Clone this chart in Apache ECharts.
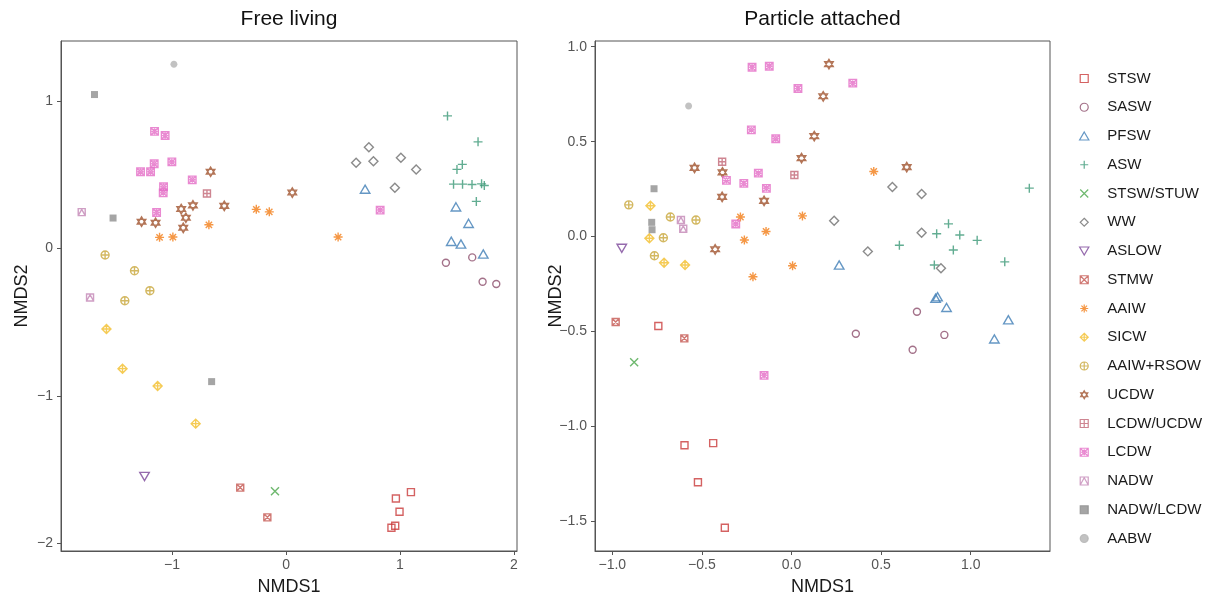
<!DOCTYPE html>
<html>
<head>
<meta charset="utf-8">
<title>NMDS</title>
<script src="https://cdn.jsdelivr.net/npm/echarts@6/dist/echarts.min.js"></script>
<style>
  html, body { margin: 0; padding: 0; background: #fff; }
  #chart { width: 1207px; height: 597px; }
</style>
</head>
<body>
<div id="chart"></div>
<script>
// water masses, in legend order
const groups = ['STSW', 'SASW', 'PFSW', 'ASW', 'STSW/STUW', 'WW', 'ASLOW', 'STMW', 'AAIW', 'SICW',
  'AAIW+RSOW', 'UCDW', 'LCDW/UCDW', 'LCDW', 'NADW', 'NADW/LCDW', 'AABW'];

// Free living  [NMDS1, NMDS2]
const flSTSW = [[1.096, -1.653], [0.964, -1.696], [0.996, -1.786], [0.958, -1.881], [0.925, -1.895]];
const flSASW = [[1.403, -0.096], [1.634, -0.060], [1.725, -0.225], [1.845, -0.241]];
const flPFSW = [[0.694, 0.403], [1.491, 0.283], [1.602, 0.171], [1.450, 0.049], [1.535, 0.031], [1.731, -0.037]];
const flASW = [[1.417, 0.900], [1.685, 0.724], [1.547, 0.571], [1.500, 0.537], [1.470, 0.437], [1.549, 0.437],
  [1.632, 0.435], [1.716, 0.439], [1.740, 0.428], [1.670, 0.320]];
const flSTUW = [[-0.097, -1.647]];
const flWW = [[0.727, 0.688], [0.615, 0.582], [0.767, 0.593], [1.008, 0.616], [1.142, 0.537], [0.955, 0.412]];
const flASLOW = [[-1.242, -1.547]];
const flSTMW = [[-0.402, -1.622], [-0.164, -1.824]];
const flAAIW = [[-0.261, 0.266], [-0.147, 0.249], [-0.677, 0.161], [-1.110, 0.076], [-0.993, 0.078], [0.457, 0.078]];
const flSICW = [[-1.576, -0.546], [-1.435, -0.815], [-1.127, -0.932], [-0.793, -1.188]];
const flRSOW = [[-1.588, -0.044], [-1.330, -0.151], [-1.195, -0.286], [-1.415, -0.354]];
const flUCDW = [[-0.662, 0.521], [0.055, 0.380], [-0.817, 0.293], [-0.542, 0.290], [-0.920, 0.268],
  [-0.879, 0.209], [-1.268, 0.182], [-1.145, 0.175], [-0.902, 0.141]];
const flLUCDW = [[-0.694, 0.374]];
const flLCDW = [[-1.154, 0.795], [-1.061, 0.767], [-1.002, 0.588], [-1.157, 0.575], [-1.277, 0.521],
  [-1.189, 0.521], [-0.823, 0.466], [-1.075, 0.419], [-1.078, 0.378], [-1.136, 0.245], [0.826, 0.261]];
const flNADW = [[-1.793, 0.247], [-1.720, -0.332]];
const flNLCDW = [[-1.681, 1.045], [-1.518, 0.207], [-0.653, -0.903]];
const flAABW = [[-0.984, 1.251]];

// Particle attached  [NMDS1, NMDS2]
const paSTSW = [[-0.743, -0.471], [-0.597, -1.099], [-0.437, -1.088], [-0.522, -1.294], [-0.372, -1.534]];
const paSASW = [[0.700, -0.396], [0.359, -0.512], [0.853, -0.518], [0.676, -0.596]];
const paPFSW = [[0.266, -0.150], [0.804, -0.325], [0.815, -0.317], [0.865, -0.373], [1.210, -0.438], [1.132, -0.539]];
const paASW = [[1.327, 0.255], [0.876, 0.067], [0.810, 0.015], [0.939, 0.008], [1.036, -0.020], [0.602, -0.046],
  [0.903, -0.071], [1.190, -0.133], [0.797, -0.150]];
const paSTUW = [[-0.878, -0.662]];
const paWW = [[0.238, 0.083], [0.563, 0.261], [0.726, 0.224], [0.726, 0.020], [0.426, -0.078], [0.834, -0.167]];
const paASLOW = [[-0.947, -0.062]];
const paSTMW = [[-0.981, -0.450], [-0.598, -0.536]];
const paAAIW = [[-0.285, 0.103], [0.061, 0.109], [-0.142, 0.027], [-0.263, -0.018], [0.006, -0.154],
  [-0.215, -0.212], [0.459, 0.343]];
const paSICW = [[-0.787, 0.162], [-0.793, -0.009], [-0.711, -0.138], [-0.594, -0.150]];
const paRSOW = [[-0.908, 0.167], [-0.676, 0.103], [-0.533, 0.087], [-0.715, -0.006], [-0.765, -0.101]];
const paUCDW = [[0.209, 0.908], [0.177, 0.739], [0.127, 0.529], [0.056, 0.413], [-0.541, 0.362],
  [-0.385, 0.338], [-0.387, 0.209], [-0.153, 0.188], [-0.426, -0.067], [0.643, 0.366]];
const paLUCDW = [[-0.387, 0.394], [0.016, 0.324]];
const paLCDW = [[-0.220, 0.892], [-0.124, 0.897], [0.036, 0.780], [0.342, 0.808], [-0.224, 0.562],
  [-0.088, 0.515], [-0.185, 0.334], [-0.363, 0.296], [-0.266, 0.280], [-0.140, 0.254], [-0.311, 0.066], [-0.153, -0.731]];
const paNADW = [[-0.617, 0.087], [-0.604, 0.041]];
const paNLCDW = [[-0.767, 0.252], [-0.780, 0.075], [-0.778, 0.036]];
const paAABW = [[-0.574, 0.688]];

const freeLiving = [flSTSW, flSASW, flPFSW, flASW, flSTUW, flWW, flASLOW, flSTMW, flAAIW, flSICW,
  flRSOW, flUCDW, flLUCDW, flLCDW, flNADW, flNLCDW, flAABW];
const particleAttached = [paSTSW, paSASW, paPFSW, paASW, paSTUW, paWW, paASLOW, paSTMW, paAAIW, paSICW,
  paRSOW, paUCDW, paLUCDW, paLCDW, paNADW, paNLCDW, paAABW];

const ticksFLx = [-1, 0, 1, 2];
const ticksFLy = [-2, -1, 0, 1];
const ticksPAx = [-1, -0.5, 0, 0.5, 1];
const ticksPAy = [-1.5, -1, -0.5, 0, 0.5, 1];

// styles (ggplot-like shapes 0..16)
const circ = 'M0,10C0,4.48,4.48,0,10,0C15.52,0,20,4.48,20,10C20,15.52,15.52,20,10,20C4.48,20,0,15.52,0,10Z';
const sq = 'M0,0L20,0L20,20L0,20Z';
const shapes = [
  'path://' + sq,                                               // 0 square
  'path://' + circ,                                             // 1 circle
  'path://M10,0L20,17.3L0,17.3Z',                               // 2 triangle
  'path://M10,0L10,20M0,10L20,10',                              // 3 plus
  'path://M0,0L20,20M20,0L0,20',                                // 4 cross
  'path://M10,0L20,10L10,20L0,10Z',                             // 5 diamond
  'path://M0,0L20,0L10,17.3Z',                                  // 6 triangle down
  'path://' + sq + 'M0,0L20,20M20,0L0,20',                      // 7 square cross
  'path://M10,0L10,20M0,10L20,10M3,3L17,17M17,3L3,17',          // 8 asterisk
  'path://M10,0L20,10L10,20L0,10ZM10,0L10,20M0,10L20,10',       // 9 diamond plus
  'path://' + circ + 'M10,0L10,20M0,10L20,10',                  // 10 circle plus
  'path://M10,0L19,15L1,15ZM10,20L1,5L19,5Z',                   // 11 star of david
  'path://' + sq + 'M10,0L10,20M0,10L20,10',                    // 12 square plus
  'path://' + sq + 'M0,0L20,20M20,0L0,20M10,4L16,10L10,16L4,10Z', // 13
  'path://' + sq + 'M0,20L10,2L20,20',                          // 14 square triangle
  'path://' + sq,                                               // 15 filled square
  'path://' + circ                                              // 16 filled circle
];
const colors = ['#c93b3b', '#8c4d6c', '#3f7db5', '#3b9877', '#4aa64a', '#6e6e6e', '#7a4598', '#c45650',
  '#f27d17', '#f2be2a', '#c8a63a', '#a0522d', '#c26676', '#e36cc5', '#c386b5', '#8f8f8f', '#b3b3b3'];
const sizes = [7, 7, 9.5, 9, 8, 9, 9.5, 7, 9, 9, 8, 9.5, 7, 7.5, 7, 7, 7];
const filled = [false, false, false, false, false, false, false, false, false, false,
  false, false, false, false, false, true, true];

const font = 'Liberation Sans, Arial, Helvetica, sans-serif';

// ggplot-style 5% expansion of the data range
function expand(sets, k) {
  const v = [];
  sets.forEach(s => s.forEach(p => v.push(p[k])));
  const lo = Math.min(...v), hi = Math.max(...v), pad = (hi - lo) * 0.05;
  return [lo - pad, hi + pad];
}

function valueAxis(gridIndex, ext, ticks, fmt, isY) {
  return {
    type: 'value', gridIndex: gridIndex, min: ext[0], max: ext[1],
    name: isY ? 'NMDS2' : 'NMDS1', nameLocation: 'middle', nameGap: isY ? 30 : 27,
    nameMoveOverlap: false,
    nameTextStyle: { fontSize: 18, color: '#1a1a1a', fontFamily: font },
    axisLine: { show: true, onZero: false, lineStyle: { color: '#555', width: 1 } },
    axisTick: { show: true, length: 4, customValues: ticks, lineStyle: { color: '#555', width: 1 } },
    axisLabel: { customValues: ticks, formatter: fmt, color: '#555', fontSize: 14, fontFamily: font, margin: isY ? 8 : 7 },
    splitLine: { show: false }
  };
}

const intFmt = v => String(v).replace('-', '\u2212');
const decFmt = v => Number(v).toFixed(1).replace('-', '\u2212');

const series = [];
[freeLiving, particleAttached].forEach((panel, pi) => {
  panel.forEach((pts, i) => {
    series.push({
      name: groups[i], type: 'scatter', xAxisIndex: pi, yAxisIndex: pi,
      data: pts, symbol: shapes[i], symbolSize: sizes[i], symbolKeepAspect: true,
      itemStyle: filled[i]
        ? { color: colors[i], borderColor: colors[i], borderWidth: 0 }
        : { color: 'transparent', borderColor: colors[i], borderWidth: 1.4 },
      emphasis: { disabled: true }
    });
  });
});

const chart = echarts.init(document.getElementById('chart'));
chart.setOption({
  animation: false,
  backgroundColor: '#fff',
  grid: [
    { left: 61, top: 41, width: 456, height: 510, show: true, borderColor: '#555', borderWidth: 1, outerBoundsMode: 'none' },
    { left: 595, top: 41, width: 455, height: 510, show: true, borderColor: '#555', borderWidth: 1, outerBoundsMode: 'none' }
  ],
  xAxis: [
    valueAxis(0, expand(freeLiving, 0), ticksFLx, intFmt, false),
    valueAxis(1, expand(particleAttached, 0), ticksPAx, decFmt, false)
  ],
  yAxis: [
    valueAxis(0, expand(freeLiving, 1), ticksFLy, intFmt, true),
    valueAxis(1, expand(particleAttached, 1), ticksPAy, decFmt, true)
  ],
  legend: {
    data: groups, orient: 'vertical', left: 1079, top: 71, padding: 0,
    itemWidth: 36, itemHeight: 8, itemGap: 13.75,
    itemStyle: { borderWidth: 1.2 },
    textStyle: { fontSize: 15, color: '#1a1a1a', fontFamily: font },
    selectedMode: false
  },
  graphic: [
    { type: 'text', x: 289, y: 19, style: { text: 'Free living', fontSize: 21, fontFamily: font, fill: '#111', align: 'center', verticalAlign: 'middle' } },
    { type: 'text', x: 822.5, y: 19, style: { text: 'Particle attached', fontSize: 21, fontFamily: font, fill: '#111', align: 'center', verticalAlign: 'middle' } }
  ],
  series: series
});
</script>
</body>
</html>
